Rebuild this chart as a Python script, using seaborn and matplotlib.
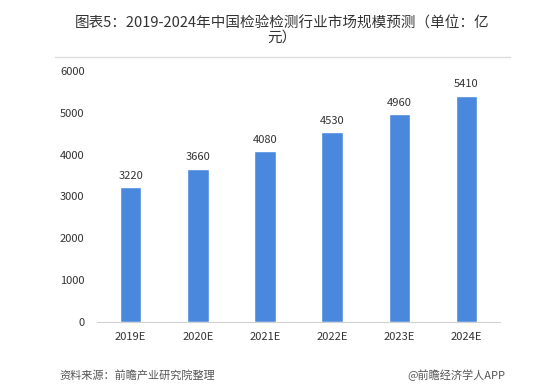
import matplotlib
matplotlib.use("Agg")
import matplotlib.pyplot as plt
import seaborn as sns
import pandas as pd

years = ["2019E", "2020E", "2021E", "2022E", "2023E", "2024E"]
market_size = [3220, 3660, 4080, 4530, 4960, 5410]
y_ticks = [0, 1000, 2000, 3000, 4000, 5000, 6000]

title = "图表5：2019-2024年中国检验检测行业市场规模预测（单位：亿\n元）"
source = "资料来源：前瞻产业研究院整理"
brand = "@前瞻经济学人APP"

sns.set_style("white")
plt.rcParams['font.family'] = ['Noto Sans CJK SC', 'DejaVu Sans']

df = pd.DataFrame({'Year': years, 'Size': market_size})

fig = plt.figure(figsize=(5.58, 3.85), dpi=100)
ax = fig.add_axes([0.174, 0.164, 0.722, 0.652])
sns.barplot(data=df, x='Year', y='Size', color='#4A88DE', width=0.32, ax=ax, saturation=1)

for i, v in enumerate(market_size):
    ax.text(i, v + 150, str(v), ha='center', va='bottom', fontsize=8, color='#333333')

ax.set_xlim(-0.5, len(years) - 0.5)
ax.set_ylim(0, 6000)
ax.set_yticks(y_ticks)
ax.tick_params(axis='both', labelsize=8, colors='#333333', length=0)
ax.tick_params(axis='y', pad=9)
ax.tick_params(axis='x', pad=7)
ax.set_xlabel('')
ax.set_ylabel('')
for s in ['top', 'right', 'left']:
    ax.spines[s].set_visible(False)
ax.spines['bottom'].set_color('#D0D0D0')

fig.text(0.505, 0.921, title, ha='center', va='center', fontsize=10.5, color='#333333', linespacing=1.0)
fig.add_artist(plt.Line2D([0.099, 0.914], [0.852, 0.852], color='#DDDDDD', lw=1))
fig.text(0.107, 0.026, source, ha='left', va='center', fontsize=8, style='italic', color='#555555')
fig.text(0.905, 0.026, brand, ha='right', va='center', fontsize=8, color='#555555')

plt.savefig('out.png', dpi=100)
